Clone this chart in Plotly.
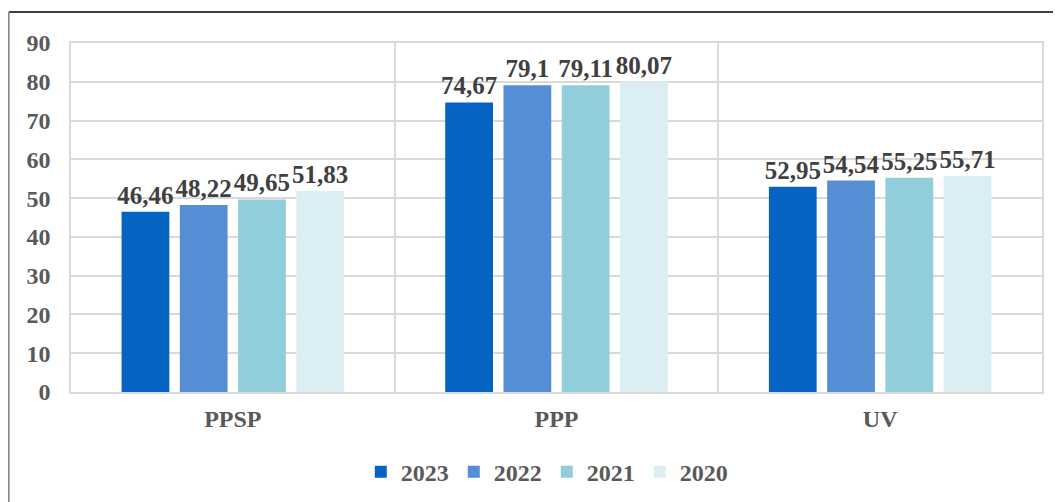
import plotly.graph_objects as go

categories = ["PPSP", "PPP", "UV"]
years = ["2023", "2022", "2021", "2020"]
values = {
    "2023": [46.46, 74.67, 52.95],
    "2022": [48.22, 79.1, 54.54],
    "2021": [49.65, 79.11, 55.25],
    "2020": [51.83, 80.07, 55.71],
}
colors = {"2023": "#0563C1", "2022": "#558ED5", "2021": "#92CDDC", "2020": "#DAEEF3"}

font_serif = "Liberation Serif, Times New Roman, serif"

fig = go.Figure()
for yr in years:
    fig.add_trace(go.Bar(
        x=categories, y=values[yr], name=yr,
        marker=dict(color=colors[yr], line=dict(width=0)),
        texttemplate="%{y}", textposition="outside", cliponaxis=False,
        constraintext="none",
        textfont=dict(family=font_serif, size=25, color="#404040", weight="bold"),
    ))

# page body adds ~8px offset, so margins are compensated
fig.update_layout(
    width=1061, height=502,
    margin=dict(l=63, r=27, t=35, b=118),
    paper_bgcolor="white", plot_bgcolor="white",
    barmode="group", bargap=0.28, bargroupgap=0.18,
    separators=", ",
    font=dict(family=font_serif, color="#595959", size=24, weight="bold"),
    legend=dict(orientation="h", x=0.49, xanchor="center", y=-0.165, yanchor="top",
                font=dict(size=24, color="#595959", weight="bold"),
                itemsizing="constant", traceorder="normal", itemwidth=30),
    xaxis=dict(showgrid=True, gridcolor="#D9D9D9", gridwidth=1.5, tickson="boundaries",
               ticks="", showline=True, linecolor="#D9D9D9", linewidth=1.5, mirror=True,
               ticklabelstandoff=4,
               tickfont=dict(size=24, color="#595959", weight="bold")),
    yaxis=dict(range=[0, 90], dtick=10, showgrid=True, gridcolor="#D9D9D9", gridwidth=1.5,
               showline=True, linecolor="#D9D9D9", linewidth=1.5, mirror=True,
               ticks="outside", ticklen=14, tickcolor="white", zeroline=False,
               tickfont=dict(size=24, color="#595959", weight="bold")),
    shapes=[
        dict(type="line", xref="paper", yref="paper", x0=-0.064, x1=1.03, y0=1.089, y1=1.089,
             line=dict(color="black", width=1.5)),
        dict(type="line", xref="paper", yref="paper", x0=-0.064, x1=-0.064, y0=1.089, y1=-0.32,
             line=dict(color="#7F7F7F", width=1.5)),
    ],
)

fig.write_html("out.html")
